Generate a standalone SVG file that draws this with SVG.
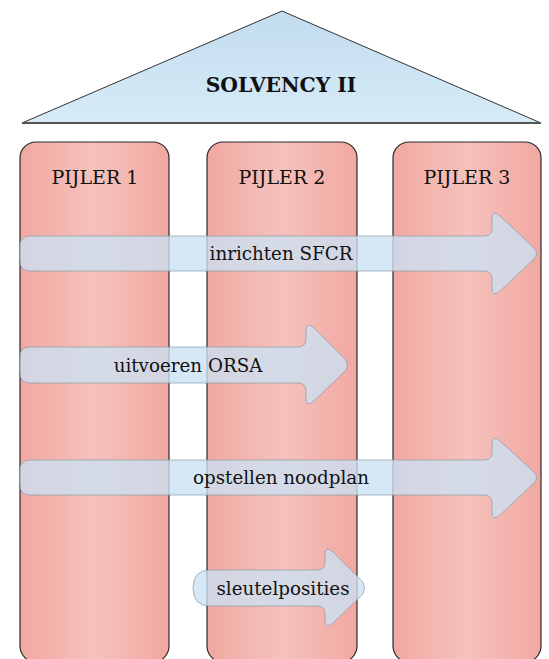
<svg xmlns="http://www.w3.org/2000/svg" width="549" height="659" viewBox="0 0 549 659">
<defs>
<linearGradient id="pil" x1="0" y1="0" x2="1" y2="0">
<stop offset="0" stop-color="#f1a8a1"/>
<stop offset="0.5" stop-color="#f5c2bc"/>
<stop offset="1" stop-color="#f1a8a1"/>
</linearGradient>
<linearGradient id="roof" x1="0" y1="0" x2="0" y2="1">
<stop offset="0" stop-color="#c2dcee"/>
<stop offset="1" stop-color="#d6ebf8"/>
</linearGradient>
<style>
.pillar{fill:url(#pil);stroke:#2a2a2a;stroke-width:1.2}
.arrow{fill:#cbe2f3;fill-opacity:0.78;stroke:#8a9aaa;stroke-opacity:0.7;stroke-width:1}
.t{font-family:"DejaVu Serif","Liberation Serif",serif;fill:#111;text-anchor:middle;dominant-baseline:central}
.lbl{font-size:18.3px}
.pl{font-size:19px}
</style>
</defs>
<rect width="549" height="659" fill="#fff"/>
<g id="roof-node">
<polygon points="282,11 541,123 22,123" fill="url(#roof)" stroke="#333" stroke-width="1"/>
<line x1="22" y1="123" x2="541" y2="123" stroke="#555" stroke-width="2"/>
<text class="t" x="281" y="85" font-size="20.3" font-weight="bold">SOLVENCY II</text>
</g>
<g id="pijler1">
<rect class="pillar" x="20" y="142" width="149" height="520" rx="16"/>
<text class="t pl" x="95" y="177">PIJLER 1</text>
</g>
<g id="pijler2">
<rect class="pillar" x="207" y="142" width="150" height="520" rx="16"/>
<text class="t pl" x="282" y="177">PIJLER 2</text>
</g>
<g id="pijler3">
<rect class="pillar" x="393" y="142" width="148" height="520" rx="16"/>
<text class="t pl" x="467" y="177">PIJLER 3</text>
</g>
<g id="arrows">
<g id="arrow-sfcr">
<path class="arrow" d="M30,236 L484,236 Q492,236 492,228 L492,219 Q492,209 500,216 L534,248 Q539,253.5 534,259 L500,291 Q492,298 492,288 L492,279 Q492,271 484,271 L30,271 Q20,271 20,261 L20,246 Q20,236 30,236 Z"/>
<text class="t lbl" x="281" y="253">inrichten SFCR</text>
</g>
<g id="arrow-orsa">
<path class="arrow" d="M30,347 L298,347 Q306,347 306,339 L306,331 Q306,321 314,328 L345,359 Q350,365 345,371 L314,401 Q306,408 306,398 L306,391 Q306,383 298,383 L30,383 Q20,383 20,373 L20,357 Q20,347 30,347 Z"/>
<text class="t lbl" x="188" y="365">uitvoeren ORSA</text>
</g>
<g id="arrow-noodplan">
<path class="arrow" d="M30,460 L484,460 Q492,460 492,452 L492,444 Q492,434 500,441 L534,472 Q539,477.5 534,483 L500,515 Q492,522 492,512 L492,503 Q492,495 484,495 L30,495 Q20,495 20,485 L20,470 Q20,460 30,460 Z"/>
<text class="t lbl" x="281" y="477">opstellen noodplan</text>
</g>
<g id="arrow-sleutel">
<path class="arrow" d="M210,570 L317,570 Q325,570 325,562 L325,555 Q325,545 333,552 L362,581 Q367,588 362,595 L333,623 Q325,630 325,620 L325,614 Q325,606 317,606 L210,606 Q193,606 193,588 Q193,570 210,570 Z"/>
<text class="t lbl" x="283" y="588">sleutelposities</text>
</g>
</g>
</svg>
